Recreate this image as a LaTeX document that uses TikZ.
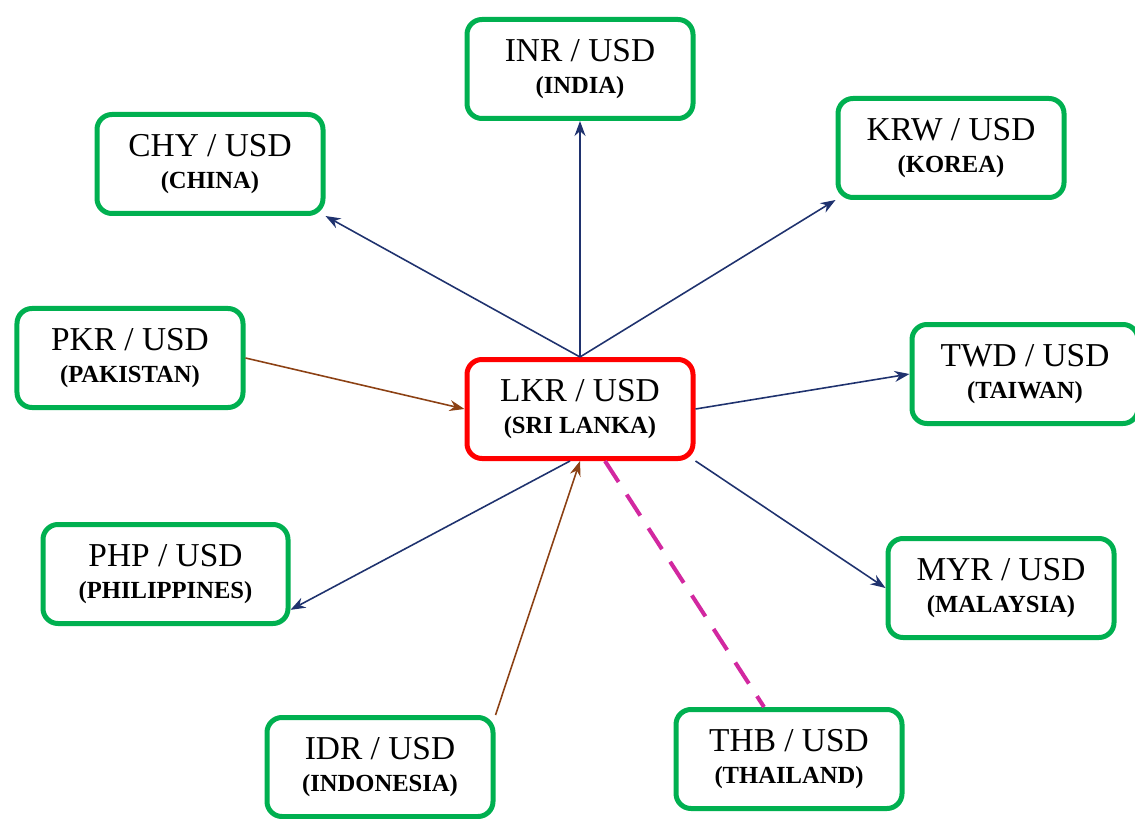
\documentclass[tikz,border=0pt]{standalone}
\usepackage{fontspec}
\setmainfont{Liberation Serif}
\usetikzlibrary{shapes,arrows.meta,positioning}
\usepackage{xcolor}
\definecolor{boxgreen}{RGB}{0,176,80}
\definecolor{navyline}{RGB}{31,50,110}
\definecolor{brownline}{RGB}{140,65,20}
\definecolor{pinkline}{RGB}{210,40,160}
\newcommand{\pairtext}[2]{#1 / USD\\[-5pt]{\fontsize{14}{16}\selectfont\bfseries (#2)}}

\begin{document}
\begin{tikzpicture}[
    box/.style={rectangle, rounded corners=0.3cm, draw=boxgreen, line width=0.1cm, fill=white, align=center, minimum width=4.52cm, minimum height=1.98cm, font=\fontsize{19}{23}\selectfont},
    arrow/.style={->, >={Stealth[length=0.3cm, width=0.22cm]}, draw=navyline, line width=0.9pt},
    inflow/.style={->, >={Stealth[length=0.3cm, width=0.22cm]}, draw=brownline, line width=0.9pt},
    tie/.style={dashed, dash pattern=on 0.5cm off 0.3cm, draw=pinkline, line width=2.3pt}
]
    \useasboundingbox (0,0) rectangle (22.7,16.36);
    \node[box, draw=red] (lkr) at (11.6,8.18) {\pairtext{LKR}{SRI LANKA}};
    \node[box, above=4.72cm of lkr] (inr) {\pairtext{INR}{INDIA}};
    \node[box, above left=2.82cm and 2.78cm of lkr] (chy) {\pairtext{CHY}{CHINA}};
    \node[box, above right=3.14cm and 2.8cm of lkr] (krw) {\pairtext{KRW}{KOREA}};
    \node[box, left=4.38cm of lkr, yshift=1.02cm] (pkr) {\pairtext{PKR}{PAKISTAN}};
    \node[box, right=4.28cm of lkr, yshift=0.7cm] (twd) {\pairtext{TWD}{TAIWAN}};
    \node[box, minimum width=4.9cm, below left=1.22cm and 3.48cm of lkr] (php) {\pairtext{PHP}{PHILIPPINES}};
    \node[box, below right=1.5cm and 3.8cm of lkr] (myr) {\pairtext{MYR}{MALAYSIA}};
    \node[box, below=5.08cm of lkr, xshift=-4.0cm] (idr) {\pairtext{IDR}{INDONESIA}};
    \node[box, below=4.92cm of lkr, xshift=4.18cm] (thb) {\pairtext{THB}{THAILAND}};

    \draw[arrow] (lkr.north) -- (inr.south);
    \draw[arrow] (lkr.north) -- (chy.south east);
    \draw[arrow] (lkr.north) -- (krw.south west);
    \draw[arrow] (lkr.east) -- (twd.west);
    \draw[arrow] (lkr.south east) -- (myr.west);
    \draw[arrow] ([xshift=-0.2cm]lkr.south) -- (php.-16);
    \draw[inflow] (pkr.east) -- (lkr.west);
    \draw[inflow] (idr.north east) -- (lkr.south);
    \draw[tie] ([xshift=0.5cm]lkr.south) -- ([xshift=-0.5cm]thb.north);
\end{tikzpicture}
\end{document}
